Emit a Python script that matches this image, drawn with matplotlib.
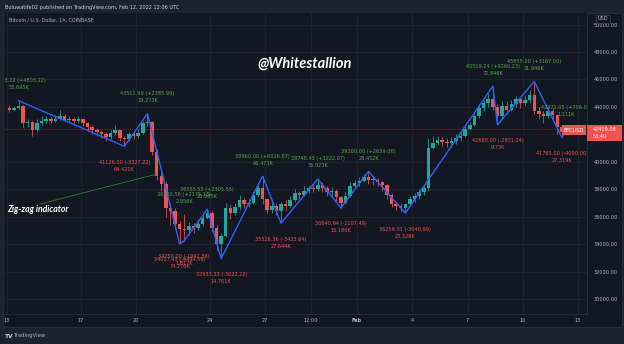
import matplotlib
matplotlib.use("Agg")
import matplotlib.pyplot as plt
from matplotlib.patches import Rectangle
from matplotlib.lines import Line2D

# ---- BTC/USD (Coinbase) 6-hour candles from 2022-01-13 00:00 UTC ----
first_open = 43920.00
closes = [43800, 43950, 44100, 42800, 42900, 42300, 42800, 43000,
          43100, 43000, 43150, 43300, 43050, 43150, 42950, 43100,
          42800, 42500, 42350, 42200, 42000, 41800, 42100, 42300,
          41700, 41650, 42000, 41900, 42100, 42800, 42900, 40700,
          39000, 38400, 36600, 36400, 35500, 35100, 35000, 35300,
          35200, 35500, 35900, 36300, 35200, 34000, 34600, 36650,
          36300, 36700, 37200, 36950, 37000, 37600, 38100, 37300,
          36500, 36800, 36400, 36900, 36800, 37200, 37700, 37600,
          37900, 38100, 38000, 38300, 38100, 37800, 37900, 37400,
          37000, 37500, 38200, 38450, 38600, 38900, 38700, 38700,
          38500, 38300, 37600, 36900, 36800, 36600, 36900, 37300,
          37500, 37800, 38100, 41000, 41400, 41600, 41450, 41400,
          41500, 41700, 41900, 42400, 42700, 43300, 43900, 44300,
          44600, 44000, 43300, 44100, 43800, 44200, 44600, 44300,
          44500, 44900, 43700, 43500, 43300, 43700, 43400, 42500,
          42150, 42419.08]
highs = [44150, 44100, 44453.22, 44150, 43100, 43000, 43150, 43300,
         43350, 43250, 43400, 43750, 43450, 43350, 43250, 43300,
         43150, 42900, 42700, 42450, 42350, 42150, 42300, 42700,
         42350, 41900, 42200, 42250, 42400, 43000, 43511.99, 43000,
         40900, 39300, 38600, 37000, 36600, 35700, 36192.56, 35600,
         35550, 35800, 36100, 36555.55, 36450, 35400, 34800, 37000,
         36900, 37000, 37550, 37400, 37300, 37900, 38300, 38960.00,
         37300, 37200, 37000, 37100, 37200, 37500, 38000, 37900,
         38200, 38300, 38350, 38748.43, 38500, 38200, 38150, 38000,
         37500, 37800, 38500, 38700, 38900, 39100, 39300.00, 39000,
         38800, 38600, 38400, 37700, 37100, 37000, 37000, 37500,
         37700, 38000, 38400, 41700, 41900, 41900, 41800, 41700,
         41800, 42000, 42200, 42650, 42900, 43500, 44200, 44500,
         45000, 45519.24, 44200, 44400, 44400, 44500, 44800, 44700,
         44900, 45200, 45855.00, 44000, 43700, 44000, 43900, 43500,
         42600, 42471.05]
lows = [43650, 43700, 43850, 42550, 42550, 41850, 42200, 42700,
        42850, 42800, 42900, 43050, 42950, 42900, 42750, 42800,
        42600, 42250, 42100, 41900, 41750, 41550, 41650, 41950,
        41500, 41126.00, 41500, 41650, 41700, 42000, 42600, 40500,
        38700, 37900, 36000, 35400, 35100, 34017.43, 34250.00, 34700,
        34800, 35000, 35300, 35800, 34900, 33600, 32933.33, 34500,
        35800, 36100, 36500, 36600, 36700, 36900, 37400, 36900,
        36250, 36300, 36100, 35526.36, 36400, 36600, 37100, 37300,
        37500, 37700, 37800, 37900, 37800, 37500, 37500, 37100,
        36640.94, 36900, 37400, 38100, 38200, 38500, 38400, 38300,
        38200, 37900, 37300, 36700, 36500, 36400, 36259.01, 36800,
        37100, 37300, 37600, 37900, 40900, 41200, 41150, 41100,
        41100, 41300, 41500, 41800, 42300, 42600, 43200, 43700,
        44000, 43800, 42688.00, 43100, 43500, 43700, 44000, 43900,
        44100, 44300, 43500, 43100, 42800, 43200, 43000, 42000,
        41765.00, 42050]
last_price = 42419.08

# ---- Zig-zag pivots (candle index, price, volume since previous pivot) ----
prior_pivot = 39650.00
pivot_idx = [2, 25, 30, 37, 38, 38, 43, 46, 55, 59, 67, 72, 78, 86,
             105, 106, 114, 120, 121]
pivot_price = [44453.22, 41126.00, 43511.99, 34017.43, 36192.56, 34250.00,
               36555.55, 32933.33, 38960.00, 35526.36, 38748.43, 36640.94,
               39300.00, 36259.01, 45519.24, 42688.00, 45855.00, 41765.00,
               42471.05]
pivot_vol = ["53.695K", "64.421K", "19.273K", "74.276K", "2.956K", "1.817K",
             "20.985K", "14.761K", "66.473K", "27.644K", "36.923K", "15.186K",
             "28.452K", "23.328K", "72.846K", "9.73K", "31.946K", "27.319K",
             "1.111K"]
pivot_on_line = [True, True, True, True, False, True, True, True, True, True,
                 True, True, True, True, True, True, True, True, True]

# ---- Axis ticks (days since Jan 13) ----
tick_days = [0, 4, 7, 11, 14, 16.5, 19, 22, 25, 28, 31]
tick_labels = ["13", "17", "20", "24", "27", "12:00", "Feb", "4", "7", "10", "13"]
price_ticks = [30000, 32000, 34000, 36000, 38000, 40000, 42000, 44000,
               46000, 48000, 50000]

# ---- Colours ----
BG_OUT = "#1e222d"
BG = "#131722"
GRID = "#1e222a"
BORDER = "#2a2e39"
TXT = "#b2b5be"
UP = "#26a69a"
DOWN = "#ef5350"
ZZ = "#2962ff"
LBL_UP = "#55a84f"
LBL_DN = "#ef5350"

W, H = 624, 344
fig = plt.figure(figsize=(W / 100, H / 100), dpi=100, facecolor=BG_OUT)


def fx(x):
    return x / W


def fy(y):
    return 1 - y / H


# chart panel background
fig.patches.append(Rectangle((fx(3), fy(327)), fx(619), 314 / H,
                             transform=fig.transFigure, facecolor=BG,
                             edgecolor=BORDER, lw=0.6, zorder=-5))

ax = fig.add_axes([fx(4), fy(314), fx(583), 301 / H])
ax.set_zorder(1)
ax.set_facecolor(BG)
for s in ax.spines.values():
    s.set_visible(False)
ax.spines["right"].set_visible(True)
ax.spines["right"].set_color(BORDER)
ax.spines["right"].set_linewidth(0.6)
ax.spines["bottom"].set_visible(True)
ax.spines["bottom"].set_color(BORDER)
ax.spines["bottom"].set_linewidth(0.6)

ax.set_xlim(-0.163, 31.487)
ax.set_ylim(28908, 50842)
ax.set_xticks(tick_days)
ax.set_xticklabels(tick_labels)
ax.set_yticks(price_ticks)
ax.set_yticklabels([f"{p:.2f}" for p in price_ticks])
ax.yaxis.tick_right()
ax.tick_params(axis="both", length=0, colors=TXT, labelsize=3.6)
ax.tick_params(axis="y", pad=4.5)
ax.tick_params(axis="x", pad=2.6)
for lab in ax.get_xticklabels():
    if lab.get_text() == "Feb":
        lab.set_fontweight("bold")
ax.grid(True, color=GRID, lw=0.7)
ax.set_axisbelow(True)

# candles
n = len(closes)
opens = [first_open] + closes[:-1]
t = [i * 0.25 + 0.125 for i in range(n)]
cols = [UP if c >= o else DOWN for o, c in zip(opens, closes)]
ax.vlines(t, lows, highs, colors=cols, lw=0.55, zorder=2)
ax.bar(t, [max(abs(c - o), 30) for o, c in zip(opens, closes)],
       bottom=[min(o, c) for o, c in zip(opens, closes)], width=0.19,
       color=cols, linewidth=0, zorder=2)

# last price line
ax.axhline(last_price, color=DOWN, lw=0.6, ls=(0, (1, 1.6)), alpha=0.55,
           zorder=1)

# zig-zag line
zx = [pivot_idx[i] * 0.25 + 0.125 for i in range(len(pivot_idx)) if pivot_on_line[i]]
zy = [pivot_price[i] for i in range(len(pivot_idx)) if pivot_on_line[i]]
ax.plot(zx, zy, color=ZZ, lw=1.0, zorder=4, solid_joinstyle="miter")

# pivot labels
prev = prior_pivot
for i, (pi, pp, pv) in enumerate(zip(pivot_idx, pivot_price, pivot_vol)):
    chg = pp - prev
    prev = pp
    xt = pi * 0.25 + 0.125
    line1 = f"{pp:.2f} ({chg:+.2f})"
    if chg > 0:
        col, o1, o2 = LBL_UP, 20 * 0.72, 13 * 0.72
    else:
        col, o1, o2 = LBL_DN, -16 * 0.72, -23 * 0.72
    for txt, off in ((line1, o1), (pv, o2)):
        a = ax.annotate(txt, (xt, pp), xytext=(0, off), textcoords="offset points",
                        ha="center", va="center", fontsize=3.6, color=col,
                        zorder=5, annotation_clip=False)
        a.set_clip_on(True)
        a.set_clip_box(ax.bbox)

# watermark and annotation
fig.text(fx(305), fy(64), "@Whitestallion", ha="center", va="center",
         color="white", fontsize=10.5, fontweight="bold", fontstyle="italic",
         family="Lato", zorder=8)
fig.text(fx(7), fy(210), "Zig-zag indicator", ha="left", va="center",
         color="white", fontsize=6.2, fontweight="bold", fontstyle="italic",
         family="Lato", zorder=8)
fig.lines.append(Line2D([fx(40), fx(157)], [fy(204), fy(174)],
                        transform=fig.transFigure, color="#2e7d32", lw=0.6,
                        zorder=8))

# price tags
fig.patches.append(Rectangle((fx(562), fy(135)), fx(24), 10 / H,
                             transform=fig.transFigure, facecolor=DOWN,
                             edgecolor="none", zorder=6))
fig.text(fx(574), fy(130), "BTCUSD", ha="center", va="center", color="white",
         fontsize=3.6, zorder=7)
fig.patches.append(Rectangle((fx(587), fy(141)), fx(35), 16 / H,
                             transform=fig.transFigure, facecolor=DOWN,
                             edgecolor="none", zorder=6))
fig.text(fx(593), fy(129.5), f"{last_price:.2f}", ha="left", va="center",
         color="white", fontsize=3.6, zorder=7)
fig.text(fx(593), fy(137), "53:40", ha="left", va="center",
         color="white", fontsize=3.6, zorder=7)

# currency box
fig.patches.append(Rectangle((fx(596), fy(23)), fx(14), 8 / H,
                             transform=fig.transFigure, facecolor=BG,
                             edgecolor="#434651", lw=0.5, zorder=6))
fig.text(fx(603), fy(19), "USD", ha="center", va="center", color=TXT,
         fontsize=3.6, zorder=7)

# time axis bottom border
fig.lines.append(Line2D([fx(3), fx(622)], [fy(327), fy(327)],
                        transform=fig.transFigure, color=BORDER, lw=0.6,
                        zorder=8))

# header texts
fig.text(fx(5), fy(7), "Boluwatife02 published on TradingView.com, Feb 12, 2022 12:06 UTC",
         ha="left", va="center", color="#d1d4dc", fontsize=3.6)
fig.text(fx(9), fy(20), "Bitcoin / U.S. Dollar, 1h, COINBASE",
         ha="left", va="center", color=TXT, fontsize=3.5, zorder=8)
fig.text(fx(5), fy(336), "TV", ha="left", va="center", color="#d1d4dc",
         fontsize=4.2, fontweight="bold")
fig.text(fx(14), fy(336), "TradingView", ha="left", va="center",
         color="#b2b5be", fontsize=3.8)

fig.savefig("out.png", dpi=100, facecolor=BG_OUT)
